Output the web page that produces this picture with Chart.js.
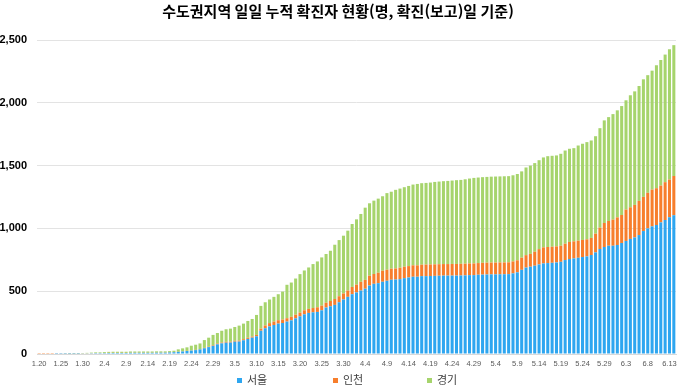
<!DOCTYPE html>
<html lang="ko">
<head>
<meta charset="utf-8">
<script src="https://cdn.jsdelivr.net/npm/chart.js@4/dist/chart.umd.min.js"></script>
<style>
  html, body { margin: 0; padding: 0; background: #fff; }
  #wrap { position: relative; width: 680px; height: 389px; }
  #legend {
    position: absolute; top: 371px; left: 0; width: 680px; height: 16px;
    font-family: 'Noto Sans CJK KR', sans-serif; font-size: 11px; color: #404040;
  }
  #legend span.item { position: absolute; top: 0; white-space: nowrap; line-height: 16px; }
  #legend span.box { display: inline-block; width: 5px; height: 5px; margin-right: 5px; vertical-align: 1px; }
</style>
</head>
<body>
<div id="wrap">
  <canvas id="chart"></canvas>
  <div id="legend"></div>
</div>
<script>
const labels = [
  '1.20','1.21','1.22','1.23','1.24','1.25','1.26','1.27','1.28','1.29','1.30','1.31',
  '2.1','2.2','2.3','2.4','2.5','2.6','2.7','2.8','2.9','2.10','2.11','2.12','2.13','2.14','2.15',
  '2.16','2.17','2.18','2.19','2.20','2.21','2.22','2.23','2.24','2.25','2.26','2.27','2.28','2.29',
  '3.1','3.2','3.3','3.4','3.5','3.6','3.7','3.8','3.9','3.10','3.11','3.12','3.13','3.14','3.15','3.16',
  '3.17','3.18','3.19','3.20','3.21','3.22','3.23','3.24','3.25','3.26','3.27','3.28','3.29','3.30','3.31',
  '4.1','4.2','4.3','4.4','4.5','4.6','4.7','4.8','4.9','4.10','4.11','4.12','4.13','4.14','4.15',
  '4.16','4.17','4.18','4.19','4.20','4.21','4.22','4.23','4.24','4.25','4.26','4.27','4.28','4.29','4.30',
  '5.1','5.2','5.3','5.4','5.5','5.6','5.7','5.8','5.9','5.10','5.11','5.12','5.13','5.14','5.15','5.16',
  '5.17','5.18','5.19','5.20','5.21','5.22','5.23','5.24','5.25','5.26','5.27','5.28','5.29','5.30','5.31',
  '6.1','6.2','6.3','6.4','6.5','6.6','6.7','6.8','6.9','6.10','6.11','6.12','6.13','6.14'
];

// 서울
const seoul = [
  0,0,0,0,1,1,1,1,1,1,3,5,
  6,7,7,7,8,8,8,8,8,9,9,9,9,9,9,10,10,10,12,14,17,20,24,27,31,37,46,55,65,
  77,85,90,91,98,99,109,120,130,141,185,205,220,231,242,247,258,268,284,300,316,327,332,335,348,370,380,391,412,434,455,
  476,490,505,520,545,559,564,575,583,591,593,596,604,609,615,615,620,620,621,622,623,624,624,624,624,625,626,628,628,631,
  632,633,634,634,635,635,636,642,650,670,688,695,703,713,721,724,726,729,734,748,756,761,766,772,777,788,809,836,852,862,862,
  868,884,900,916,928,947,979,1000,1016,1027,1048,1067,1088,1105
];

// 인천
const incheon = [
  1,1,1,1,1,1,1,1,1,1,1,1,
  1,1,1,1,1,1,1,1,1,1,1,1,1,1,1,1,1,1,1,1,1,1,1,1,2,2,3,3,5,
  6,6,7,7,7,8,9,9,9,11,17,22,26,27,27,27,27,28,29,30,32,32,34,37,37,38,42,47,48,48,50,
  58,62,70,70,78,78,83,88,88,88,88,91,91,91,91,91,91,92,92,92,92,92,92,93,93,93,93,93,93,93,
  94,94,94,94,94,94,94,95,96,97,99,102,111,122,128,128,128,128,128,130,136,136,136,136,136,136,149,170,191,197,208,
  220,223,250,252,259,272,272,283,293,293,293,301,301,312
];

// 경기
const gyeonggi = [
  0,0,0,0,0,0,1,2,2,2,2,3,
  4,5,5,7,8,9,9,9,9,10,10,10,10,10,10,10,10,10,10,11,19,24,28,38,41,45,62,72,82,
  84,94,100,104,110,119,124,134,140,159,181,185,188,197,207,223,266,273,288,306,317,330,350,365,384,388,400,432,447,460,477,
  501,520,540,575,577,584,590,593,610,613,626,630,633,638,643,648,649,650,652,656,658,660,662,664,667,668,672,676,681,681,
  682,683,684,685,685,686,686,686,687,687,698,703,706,708,716,723,724,724,732,742,742,742,758,766,774,776,776,792,817,827,840,
  852,867,870,892,904,915,936,937,947,979,1000,1016,1038,1042
];

const seriesNames = ['서울', '인천', '경기'];
const seriesColors = ['#2ea6f0', '#f77e2c', '#a6d46c'];
const seriesData = [seoul, incheon, gyeonggi];
const yTicks = [0, 500, 1000, 1500, 2000, 2500];

const datasets = seriesNames.map((name, k) => ({
  label: name,
  data: seriesData[k],
  backgroundColor: seriesColors[k],
  borderWidth: 0,
  categoryPercentage: 1.0,
  barPercentage: 0.7
}));

new Chart(document.getElementById('chart'), {
  type: 'bar',
  data: { labels, datasets },
  options: {
    responsive: true,
    maintainAspectRatio: false,
    animation: false,
    layout: { padding: { left: 0, right: 4, top: 0, bottom: 16 } },
    plugins: {
      legend: { display: false },
      tooltip: { enabled: false },
      title: {
        display: true,
        text: '수도권지역 일일 누적 확진자 현황(명, 확진(보고)일 기준)',
        color: '#000',
        font: { family: "'Noto Sans CJK KR', sans-serif", size: 15, weight: 'bold' },
        padding: { top: 2, bottom: 20 }
      }
    },
    scales: {
      x: {
        stacked: true,
        grid: { display: false, drawTicks: false },
        border: { color: '#d9d9d9' },
        ticks: {
          autoSkip: false,
          maxRotation: 0,
          minRotation: 0,
          padding: 5,
          color: '#595959',
          font: { family: "'Liberation Sans', Arial, sans-serif", size: 7.5 },
          callback: (v, i) => (i % 5 === 0 ? labels[i] : '')
        }
      },
      y: {
        stacked: true,
        min: 0,
        max: 2500,
        afterBuildTicks: axis => { axis.ticks = yTicks.map(v => ({ value: v })); },
        afterFit: axis => { axis.width = 37; },
        grid: { color: '#e3e3e3', drawTicks: false },
        border: { display: false },
        ticks: {
          padding: 10,
          color: '#000',
          font: { family: "'Liberation Sans', Arial, sans-serif", size: 11, weight: 'bold' },
          callback: v => v.toLocaleString('en-US')
        }
      }
    }
  }
});

// legend below the plot
const legendEl = document.getElementById('legend');
const legendLeft = [237, 333, 427];
seriesNames.forEach((name, k) => {
  const item = document.createElement('span');
  item.className = 'item';
  item.style.left = legendLeft[k] + 'px';
  item.innerHTML = `<span class="box" style="background:${seriesColors[k]}"></span>${name}`;
  legendEl.appendChild(item);
});
</script>
</body>
</html>
